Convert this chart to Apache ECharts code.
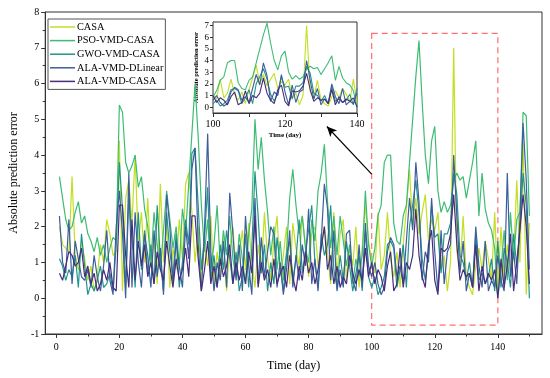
<!DOCTYPE html>
<html><head><meta charset="utf-8">
<script src="https://cdn.jsdelivr.net/npm/echarts@6/dist/echarts.min.js"></script>
<style>html,body{margin:0;padding:0;background:#fff}#c{width:550px;height:378px}</style>
</head><body><div id="c"></div>
<script>
const seriesNames = ['CASA','PSO-VMD-CASA','GWO-VMD-CASA','ALA-VMD-DLinear','ALA-VMD-CASA'];
const colors = ['#c2df23','#3dbc74','#21958a','#3b5e9c','#472d7b'];
const days = Array.from({length:150},(_,i)=>i+1);
const casa = [2.0,1.5,1.4,1.3,3.4,1.2,0.8,1.6,1.1,0.5,0.9,0.2,0.6,1.5,1.0,2.2,1.8,1.2,1.3,4.4,0.2,2.8,3.3,2.1,4.0,1.5,2.4,1.0,
 2.8,0.9,1.6,0.4,3.2,1.0,2.1,0.3,1.4,0.8,2.2,1.1,3.2,3.5,2.4,1.0,2.0,0.5,1.5,0.9,2.3,0.4,1.3,0.6,1.7,0.2,1.4,2.0,0.7,1.2,
 1.9,0.8,2.1,1.0,0.3,1.5,0.7,2.4,1.1,0.5,1.6,2.3,0.6,1.2,2.0,0.4,2.1,1.4,0.9,2.3,1.5,0.6,1.8,2.0,0.9,1.5,2.0,
 1.3,0.4,2.4,0.6,1.8,2.2,0.5,1.4,0.9,2.0,0.3,1.4,2.6,1.6,
 1.0,0.7,2.4,0.8,1.2,2.4,1.1,0.6,1.3,0.3,1.5,2.5,3.6,2.0,2.8,1.8,2.4,2.9,1.6,2.2,1.9,2.4,0.8,1.2,0.2,1.0,7.0,1.3,0.8,2.3,0.6,0.3,0.1,0.9,1.4,0.8,1.6,1.1,0.5,2.4,0.3,
 2.0,0.5,1.5,0.8,1.1,3.3,1.0,4.4,0.1,2.1];
const psoVmdCasa = [3.4,2.8,2.2,1.9,2.0,2.4,2.7,2.1,2.3,1.8,1.6,1.3,1.7,1.2,1.5,1.0,1.4,1.7,1.6,5.4,5.2,3.8,3.5,3.7,4.0,3.1,3.4,2.5,
 2.0,1.0,2.4,1.5,0.8,1.9,3.0,2.2,1.4,2.0,0.9,2.5,1.8,3.2,4.6,6.0,4.5,2.6,1.3,2.2,0.8,1.5,2.6,0.9,1.9,1.2,2.3,1.1,0.6,1.8,
 1.1,0.4,1.8,2.5,5.0,3.6,4.5,3.3,2.4,1.2,2.0,0.8,1.6,0.5,1.3,2.8,3.6,2.6,1.8,2.3,1.4,1.0,2.2,1.6,3.0,3.5,4.3,
 2.7,1.4,2.3,1.2,2.3,1.6,0.9,1.5,0.4,1.1,0.6,1.2,3.0,1.5,
 0.9,1.4,2.3,2.6,3.8,4.0,4.0,2.1,1.6,1.5,2.3,2.6,3.8,5.0,6.2,7.2,5.5,4.0,3.2,4.4,4.8,3.0,2.4,2.7,2.4,2.6,3.3,3.5,3.3,3.4,2.8,3.3,3.8,4.4,2.3,3.5,2.5,2.1,1.9,1.4,0.0,
 0.8,1.9,0.5,2.4,1.1,2.2,2.4,5.2,5.1,2.3];
const gwoVmdCasa = [1.1,0.9,0.5,0.8,0.6,1.2,0.3,1.8,0.9,0.1,0.4,0.2,0.5,0.9,0.3,0.4,0.7,0.2,1.5,3.8,2.5,0.3,2.8,1.7,0.3,2.4,0.8,1.9,
 0.7,1.5,0.4,2.6,1.1,0.2,2.4,1.3,0.6,1.8,0.3,1.0,2.2,1.5,4.05,4.2,2.6,0.8,1.7,3.1,0.5,1.2,0.3,1.5,0.8,1.9,1.1,0.4,1.3,0.2,
 0.6,1.8,0.3,1.4,3.55,2.3,0.7,1.5,0.2,1.0,0.4,1.7,0.9,0.2,1.2,1.6,0.5,1.1,2.2,0.7,1.3,1.9,2.6,1.0,0.3,1.8,1.2,
 1.5,2.6,0.8,0.3,1.2,0.5,1.6,0.9,0.2,0.7,1.2,0.2,1.9,0.6,
 0.3,0.6,0.1,0.3,0.6,1.5,1.6,1.4,0.3,0.8,1.5,0.3,2.0,2.6,3.3,2.4,1.1,0.5,1.2,2.6,1.7,1.8,0.7,1.8,1.8,2.1,3.5,2.9,1.2,1.0,0.5,1.0,0.3,1.8,0.5,0.7,0.4,0.6,1.1,0.2,1.6,
 0.3,1.4,1.0,0.3,1.8,0.9,2.0,3.5,2.6,0.0];
const alaVmdDLinear = [2.3,1.0,0.7,2.2,0.4,1.6,1.1,0.6,0.5,0.8,0.3,1.2,0.6,0.2,0.9,1.9,0.5,0.1,2.0,3.0,1.8,0.0,3.5,0.3,2.4,1.0,0.3,1.8,
 1.2,0.3,1.9,0.6,1.4,0.1,2.9,2.0,0.4,1.6,0.9,0.3,2.0,1.1,3.6,4.2,1.5,0.2,1.9,4.6,1.3,0.2,1.0,0.5,1.6,0.3,2.95,1.8,0.5,1.5,
 0.2,2.3,0.9,0.1,2.8,0.4,1.7,0.6,1.3,2.0,1.8,0.3,1.0,0.1,0.8,1.9,0.3,1.2,0.5,1.5,0.9,2.5,0.4,1.1,0.2,1.6,3.2,
 2.5,0.5,1.9,0.2,0.8,0.3,1.8,1.9,0.5,0.2,1.5,0.3,2.1,0.9,
 0.6,1.0,0.4,0.1,0.3,1.3,1.7,1.5,0.6,0.9,0.4,1.6,2.8,1.9,3.8,2.7,0.5,1.3,1.0,2.8,1.3,0.2,1.9,0.4,1.3,1.5,4.0,2.3,0.7,1.6,0.2,0.7,0.3,2.0,0.9,0.3,1.6,0.2,0.5,0.3,1.2,
 0.5,0.2,3.5,0.6,1.3,0.4,2.2,4.9,3.3,0.8];
const alaVmdCasa = [0.7,0.5,0.9,1.3,1.2,0.9,1.0,1.4,0.6,0.9,0.4,0.7,0.2,0.4,0.8,0.5,1.0,0.3,0.2,2.6,2.6,1.2,0.3,2.2,0.5,1.6,0.9,1.5,
 0.6,1.0,0.4,1.3,0.8,0.5,1.6,0.9,0.3,1.1,0.5,0.8,1.4,0.6,2.3,2.3,1.1,0.2,0.8,1.6,0.4,0.9,0.3,1.1,0.6,0.9,1.5,0.4,1.0,0.5,
 0.9,0.4,1.3,0.7,2.3,0.3,1.0,0.5,0.8,0.3,1.1,0.4,0.7,0.9,0.3,1.2,0.6,0.2,0.9,0.5,1.3,0.7,1.0,0.4,0.8,1.4,2.0,
 0.8,1.2,0.4,0.9,0.3,0.6,0.4,1.2,0.7,0.4,0.8,0.5,1.4,0.6,
 1.0,0.4,0.8,0.6,0.2,0.9,1.3,0.2,0.4,1.4,0.3,1.0,0.8,1.2,2.5,1.2,0.6,0.3,1.5,1.9,0.5,0.1,1.4,1.3,1.4,1.8,2.9,1.5,0.5,0.8,0.6,0.7,0.3,1.5,0.2,0.9,0.4,0.7,0.5,0.8,0.0,
 1.1,0.3,0.9,1.8,0.2,1.0,1.9,2.9,2.0,0.4];
const allSeries = [casa, psoVmdCasa, gwoVmdCasa, alaVmdDLinear, alaVmdCasa];
const mainXTicks = [0,20,40,60,80,100,120,140];
const mainXMinor = [10,30,50,70,90,110,130,150];
const insetYTicks = [0,1,2,3,4,5,6,7];
const zoomRange = [100,140];

const serif = 'Liberation Serif';
const chart = echarts.init(document.getElementById('c'));
const mainSeries = allSeries.map((arr,k)=>({
  name: seriesNames[k], type:'line', xAxisIndex:0, yAxisIndex:0,
  data: days.map((d,i)=>[d,arr[i]]), symbol:'none', color: colors[k],
  lineStyle:{width:1.2, color:colors[k]}, z: 2+k
}));
const insetSeries = allSeries.map((arr,k)=>({
  name: seriesNames[k], type:'line', xAxisIndex:2, yAxisIndex:1,
  data: days.map((d,i)=>[d,arr[i]]).filter(p=>p[0]>=zoomRange[0]&&p[0]<=zoomRange[1]),
  symbol:'none', color: colors[k], lineStyle:{width:1.1, color:colors[k]}, z: 20+k
}));
const annot = {
  type:'line', xAxisIndex:0, yAxisIndex:0, data:[], silent:true, z:15,
  markArea:{silent:true, itemStyle:{color:'rgba(0,0,0,0)', borderColor:'#ff6f6f', borderWidth:1.2, borderType:[6,4]},
    data:[[{coord:[zoomRange[0],7.4]},{coord:[zoomRange[1],-0.75]}]]},
  markLine:{silent:true, symbol:['none','arrow'], symbolSize:[7,10], label:{show:false},
    lineStyle:{color:'#000', width:1.2, type:'solid'},
    data:[[{coord:[zoomRange[0],3.47]},{coord:[85.8,4.8]}]]}
};
const axisLineStyle = {onZero:false, lineStyle:{color:'#333', width:1}};
chart.setOption({
  animation:false,
  backgroundColor:'#fff',
  grid:[
    {left:37, top:12, width:505, height:322, show:true, borderColor:'#333', borderWidth:1, z:0},
    {left:213, top:22, width:144, height:91, show:true, borderColor:'#333', borderWidth:1, backgroundColor:'#fff', z:10}
  ],
  legend:{
    data:seriesNames, orient:'vertical', left:48, top:19, icon:'rect', itemWidth:25, itemHeight:1.5, itemGap:3.6,
    padding:[3,2,3,2], borderColor:'#555', borderWidth:1, backgroundColor:'#fff', z:30,
    textStyle:{fontFamily:serif, fontSize:10.3, color:'#000', padding:[0,0,0,-3]}
  },
  xAxis:[
    {type:'value', gridIndex:0, min:-3.5, max:154, name:'Time (day)', nameLocation:'middle', nameGap:26,
      nameTextStyle:{fontFamily:serif, fontSize:12, color:'#000'},
      axisLine:axisLineStyle, splitLine:{show:false},
      axisTick:{customValues:mainXTicks, length:4, lineStyle:{color:'#333'}},
      axisLabel:{customValues:mainXTicks, fontFamily:serif, fontSize:10, color:'#000', margin:8}},
    {type:'value', gridIndex:0, min:-3.5, max:154, axisLine:{show:false, onZero:false}, splitLine:{show:false},
      axisTick:{customValues:mainXMinor, length:2.5, lineStyle:{color:'#333'}}, axisLabel:{show:false}, position:'bottom'},
    {type:'value', gridIndex:1, min:zoomRange[0], max:zoomRange[1], interval:20, name:'Time (day)', nameLocation:'middle', nameGap:19,
      nameTextStyle:{fontFamily:serif, fontSize:7, fontWeight:'bold', color:'#000'},
      axisLine:axisLineStyle, splitLine:{show:false},
      axisTick:{length:4, lineStyle:{color:'#333'}}, minorTick:{show:true, splitNumber:2, length:4},
      axisLabel:{fontFamily:serif, fontSize:10, color:'#000', margin:6}}
  ],
  yAxis:[
    {type:'value', gridIndex:0, min:-1, max:8, interval:1, name:'Absolute prediction error', nameLocation:'middle', nameGap:21,
      nameTextStyle:{fontFamily:serif, fontSize:12, color:'#000'},
      axisLine:axisLineStyle, splitLine:{show:false},
      axisTick:{length:4, lineStyle:{color:'#333'}}, minorTick:{show:true, splitNumber:2, length:2.5},
      axisLabel:{fontFamily:serif, fontSize:10, color:'#000', margin:6}},
    {type:'value', gridIndex:1, min:-0.5, max:7.3, name:'Absolute prediction error', nameLocation:'middle', nameGap:13,
      nameTextStyle:{fontFamily:serif, fontSize:6.5, fontWeight:'bold', color:'#000'},
      axisLine:axisLineStyle, splitLine:{show:false},
      axisTick:{customValues:insetYTicks, length:3, lineStyle:{color:'#333'}},
      axisLabel:{customValues:insetYTicks, fontFamily:serif, fontSize:9, color:'#000', margin:4}}
  ],
  series:[...mainSeries, annot, ...insetSeries]
});
</script></body></html>
